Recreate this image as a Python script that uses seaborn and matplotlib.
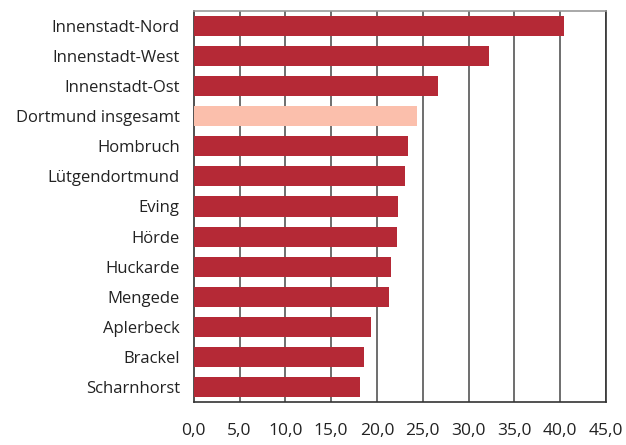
import numpy as np
import pandas as pd
import matplotlib
matplotlib.use("Agg")
import matplotlib.pyplot as plt
import seaborn as sns

districts = ["Innenstadt-Nord", "Innenstadt-West", "Innenstadt-Ost", "Dortmund insgesamt",
             "Hombruch", "Lütgendortmund", "Eving", "Hörde", "Huckarde", "Mengede",
             "Aplerbeck", "Brackel", "Scharnhorst"]
values = [40.4, 32.2, 26.7, 24.4, 23.4, 23.1, 22.3, 22.2, 21.5, 21.3, 19.4, 18.6, 18.2]
xticks = [0, 5, 10, 15, 20, 25, 30, 35, 40, 45]
xlabels = ["0,0", "5,0", "10,0", "15,0", "20,0", "25,0", "30,0", "35,0", "40,0", "45,0"]

sns.set_style("white")
plt.rcParams['font.family'] = ['Open Sans', 'DejaVu Sans']

df = pd.DataFrame({"district": districts, "value": values})
red = "#b52936"
pink = "#fbbfac"
palette = [pink if d == "Dortmund insgesamt" else red for d in districts]

fig = plt.figure(figsize=(6.26, 4.45), dpi=100)
ax = fig.add_axes([193.7 / 626, 43 / 445, 412.3 / 626, 391 / 445])

sns.barplot(data=df, y="district", x="value", hue="district", palette=palette,
            legend=False, width=0.667, saturation=1, linewidth=0, ax=ax, zorder=3)

ax.set_xlim(0, 45)
ax.set_ylim(12.5, -0.5)
ax.set_xticks(xticks)
ax.set_xticklabels(xlabels)
ax.set_xlabel("")
ax.set_ylabel("")

for x in xticks[1:]:
    ax.axvline(x, color="#555555", lw=1.2, zorder=1)

ax.set_yticks(np.arange(-0.5, 13, 1), minor=True)
ax.tick_params(axis="y", which="major", length=0, pad=10, labelsize=12, labelcolor="#222222")
ax.tick_params(axis="y", which="minor", length=11, width=1.2, color="#444444", direction="out")
ax.tick_params(axis="x", which="major", length=10, width=1.2, color="#444444", direction="out",
               pad=5, labelsize=12.5, labelcolor="#222222")

for s in ["left", "bottom", "top", "right"]:
    ax.spines[s].set_color("#333333")
    ax.spines[s].set_linewidth(1.2)
ax.spines["top"].set_color("#999999")

fig.savefig("out.png", dpi=100)
